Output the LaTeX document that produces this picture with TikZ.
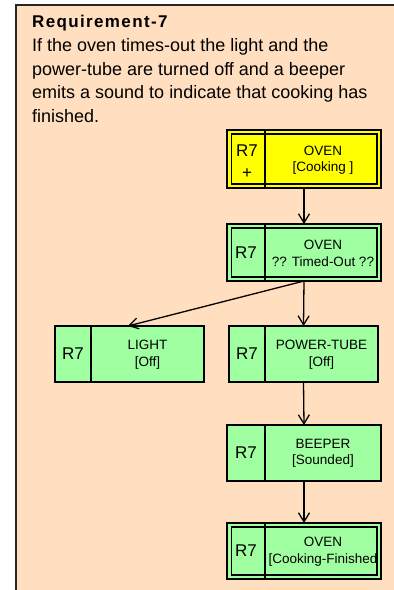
\documentclass[tikz,border=0pt]{standalone}
\usepackage{fontspec}
\setmainfont{Liberation Sans}
\newfontfamily\titlefont[LetterSpace=8]{Liberation Sans}
\usetikzlibrary{arrows.meta}
\definecolor{peach}{HTML}{FFDFC0}
\definecolor{stgreen}{HTML}{A0FFA0}
\definecolor{styellow}{HTML}{FFFF00}
\tikzset{
  stbox/.style={draw=black, line width=1.3pt, rectangle, inner sep=0pt, outer sep=0pt},
  rlabel/.style={font=\fontsize{17}{20}\selectfont, inner sep=0pt},
  slabel/.style={font=\fontsize{13.5}{16.5}\selectfont, align=center, inner sep=0pt},
  conn/.style={line width=1.3pt, -{Straight Barb[length=9pt,width=11pt,line width=1.3pt]}},
}
\begin{document}
\begin{tikzpicture}[x=1pt,y=-1pt]
\useasboundingbox (0,0) rectangle (394,590);
% requirement frame
\fill[peach] (16,5) rectangle (394,590);
\draw[line width=2pt, black!85] (16,590) -- (16,5) -- (394,5);
\node[anchor=base west, inner sep=0pt, font=\titlefont\bfseries\fontsize{17}{19}\selectfont] (title) at (32,27.3) {Requirement-7};
\node[anchor=north west, inner sep=0pt, align=left, font=\fontsize{18}{23.5}\selectfont] (desc) at (32,38.3)
  {If the oven times-out the light and the\\power-tube are turned off and a beeper\\emits a sound to indicate that cooking has\\finished.};
% states
\node[stbox, fill=styellow, minimum width=154pt, minimum height=58pt] (c1) at (304,159) {};
\node[stbox, fill=stgreen, minimum width=154pt, minimum height=57pt] (c2) at (304,252.5) {};
\node[stbox, fill=stgreen, minimum width=149pt, minimum height=56pt] (light) at (129.5,354) {};
\node[stbox, fill=stgreen, minimum width=149pt, minimum height=56pt] (tube) at (303.5,354) {};
\node[stbox, fill=stgreen, minimum width=154pt, minimum height=56pt] (beep) at (304,453) {};
\node[stbox, fill=stgreen, minimum width=154pt, minimum height=56pt] (fin) at (304,551) {};
% inner borders of double boxes
\foreach \n in {c1,c2,fin}{
  \draw[line width=1.3pt] ([shift={(4.5pt,-4pt)}]\n.north west) rectangle ([shift={(-4pt,4pt)}]\n.south east);
}
% dividers
\foreach \n/\d in {c1/38,c2/38,light/36,tube/36,beep/38,fin/38}{
  \draw[line width=1.3pt] ([xshift=\d pt]\n.north west) -- ([xshift=\d pt]\n.south west);
}
% texts
\node[rlabel] (c1r) at (247,151) {R7};
\node[rlabel] (c1p) at (247,174) {+};
\node[slabel] (c1t) at (323,160) {OVEN\\{}[Cooking ]};
\node[rlabel] (c2r) at (246,253) {R7};
\node[slabel] (c2t) at (323,253.5) {OVEN\\?? Timed-Out ??};
\node[rlabel] (lr) at (73,354) {R7};
\node[slabel] (lt) at (147.5,354.5) {LIGHT\\{}[Off]};
\node[rlabel] (tr) at (247,354) {R7};
\node[slabel] (tt) at (321.5,354.5) {POWER-TUBE\\{}[Off]};
\node[rlabel] (br) at (246,453) {R7};
\node[slabel] (bt) at (323,453.5) {BEEPER\\{}[Sounded]};
\node[rlabel] (fr) at (246,551) {R7};
\node[slabel] (ft) at (323,551.5) {OVEN\\{}[Cooking-Finished};
% connectors
\draw[conn] (c1.south) -- (c2.north);
\draw[conn] (c2.south) -- ([xshift=-1.5pt]light.north);
\draw[conn] (c2.south) -- (tube.north);
\draw[conn] (tube.south) -- (beep.north);
\draw[conn] (beep.south) -- (fin.north);
\end{tikzpicture}
\end{document}
